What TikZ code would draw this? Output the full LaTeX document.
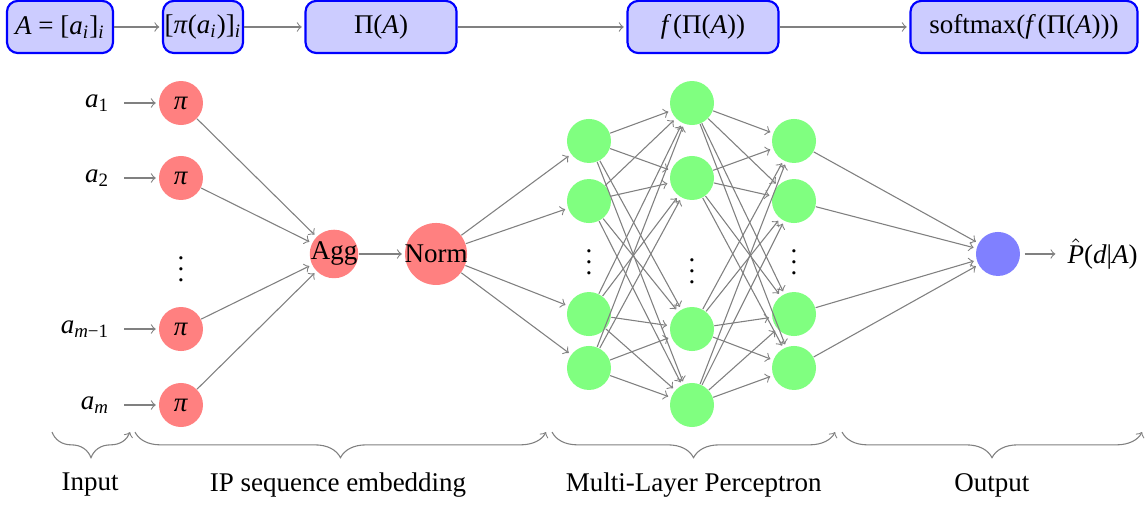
\documentclass[tikz,border=0pt]{standalone}
\usepackage{fontspec}
\setmainfont{Liberation Serif}
\usepackage{tikz}
\usetikzlibrary{arrows, positioning, calc, decorations.pathreplacing}
\colorlet{NNred}{red!50}
\colorlet{NNgreen}{green!50}
\colorlet{NNblue}{blue!50}
\colorlet{NNbox}{blue!20}
\newcommand{\vb}[1]{\textit{#1}}
\tikzset{
  neuron/.style={circle, inner sep=0pt, minimum size=16.3pt},
  stagebox/.style={draw=blue, thick, fill=NNbox, rounded corners=4pt, minimum height=19.3pt, inner sep=2pt},
  conn/.style={->, gray, shorten >=1pt},
  span/.style={->, gray, decorate, decoration={brace, mirror, amplitude=9.5pt}},
}

\begin{document}
\begin{tikzpicture}
        \useasboundingbox (0,0) rectangle (14.918,-6.561);
        % pipeline on top
        \node[stagebox, minimum width=1.38cm] (s1) at (0.781,-0.351) {\vb{A}\ =\ [\vb{a}\textsubscript{\vb{i}}]\textsubscript{\vb{i}}};
        \node[stagebox, minimum width=1.041cm, inner xsep=0.5pt] (s2) at (2.643,-0.351) {[\vb{π}(\vb{a}\textsubscript{\vb{i}})]\textsubscript{\vb{i}}};
        \node[stagebox, minimum width=1.966cm] (s3) at (4.960,-0.351) {Π(\vb{A})};
        \node[stagebox, minimum width=1.966cm] (s4) at (9.151,-0.351) {\vb{f}\kern0.6pt(Π(\vb{A}))};
        \node[stagebox, minimum width=2.955cm] (s5) at (13.330,-0.351) {softmax(\vb{f}\kern0.6pt(Π(\vb{A})))};
        \draw[conn] (s1) -- (s2);
        \draw[conn] (s2) -- (s3);
        \draw[conn] (s3) -- (s4);
        \draw[conn] (s4) -- (s5);

        % input and embedding
        \foreach \i/\y/\lab in {1/-1.341/1, 2/-2.317/2, 3/-4.283/\vb{m}−1, 4/-5.272/\vb{m}} {
          \node[neuron, fill=NNred] (p-\i) at (2.356,\y) {\vb{π}};
          \node[anchor=east] (a-\i) at (1.549,\y) {\vb{a}\textsubscript{\lab}};
          \draw[conn, shorten <=2pt] (a-\i) -- (p-\i);
        }
        \node (pdots) at (2.356,-3.398) {$\vdots$};
        \node[neuron, fill=NNred, inner sep=-0.5pt] (agg) at (4.348,-3.306) {Agg};
        \node[neuron, fill=NNred, inner sep=-0.5pt] (norm) at (5.676,-3.306) {Norm};
        \foreach \i in {1,...,4}
          \draw[conn] (p-\i) -- (agg);
        \draw[conn] (agg) -- (norm);

        % perceptron
        \foreach \i/\y in {1/-1.835, 2/-2.617, 3/-4.088, 4/-4.790} {
          \node[neuron, fill=NNgreen] (h1-\i) at (7.667,\y) {};
          \node[neuron, fill=NNgreen] (h3-\i) at (10.336,\y) {};
        }
        \foreach \i/\y in {1/-1.341, 2/-2.317, 3/-4.283, 4/-5.272}
          \node[neuron, fill=NNgreen] (h2-\i) at (9.008,\y) {};
        \node (h1dots) at (7.667,-3.306) {$\vdots$};
        \node (h2dots) at (9.008,-3.424) {$\vdots$};
        \node (h3dots) at (10.336,-3.306) {$\vdots$};

        % output
        \node[neuron, fill=NNblue] (out) at (12.991,-3.306) {};
        \node[anchor=west] (prob) at (13.773,-3.306) {$\hat{\hbox{\vb{P}}}$(\vb{d}|\vb{A})};
        \draw[conn, shorten <=1.5pt] (out) -- (prob);

        \foreach \i in {1,...,4} {
          \draw[conn] (norm) -- (h1-\i);
          \draw[conn] (h3-\i) -- (out);
          \foreach \j in {1,...,4} {
            \draw[conn] (h1-\i) -- (h2-\j);
            \draw[conn] (h2-\i) -- (h3-\j);
          }
        }

        % parts below
        \coordinate (c0) at (0.677,-5.624);
        \coordinate (c1) at (1.692,-5.624);
        \coordinate (c2) at (1.757,-5.624);
        \coordinate (c3) at (7.107,-5.624);
        \coordinate (c4) at (7.186,-5.624);
        \coordinate (c5) at (10.870,-5.624);
        \coordinate (c6) at (10.961,-5.624);
        \coordinate (c7) at (14.866,-5.624);
        \draw[span] (c0) -- (c1);
        \draw[span] (c2) -- (c3);
        \draw[span] (c4) -- (c5);
        \draw[span] (c6) -- (c7);
        \node (lab-in) at (1.172,-6.313) {Input};
        \node (lab-emb) at (4.40,-6.313) {IP sequence embedding};
        \node (lab-mlp) at (9.03,-6.313) {Multi-Layer Perceptron};
        \node (lab-out) at (12.91,-6.313) {Output};
      \end{tikzpicture}
\end{document}
